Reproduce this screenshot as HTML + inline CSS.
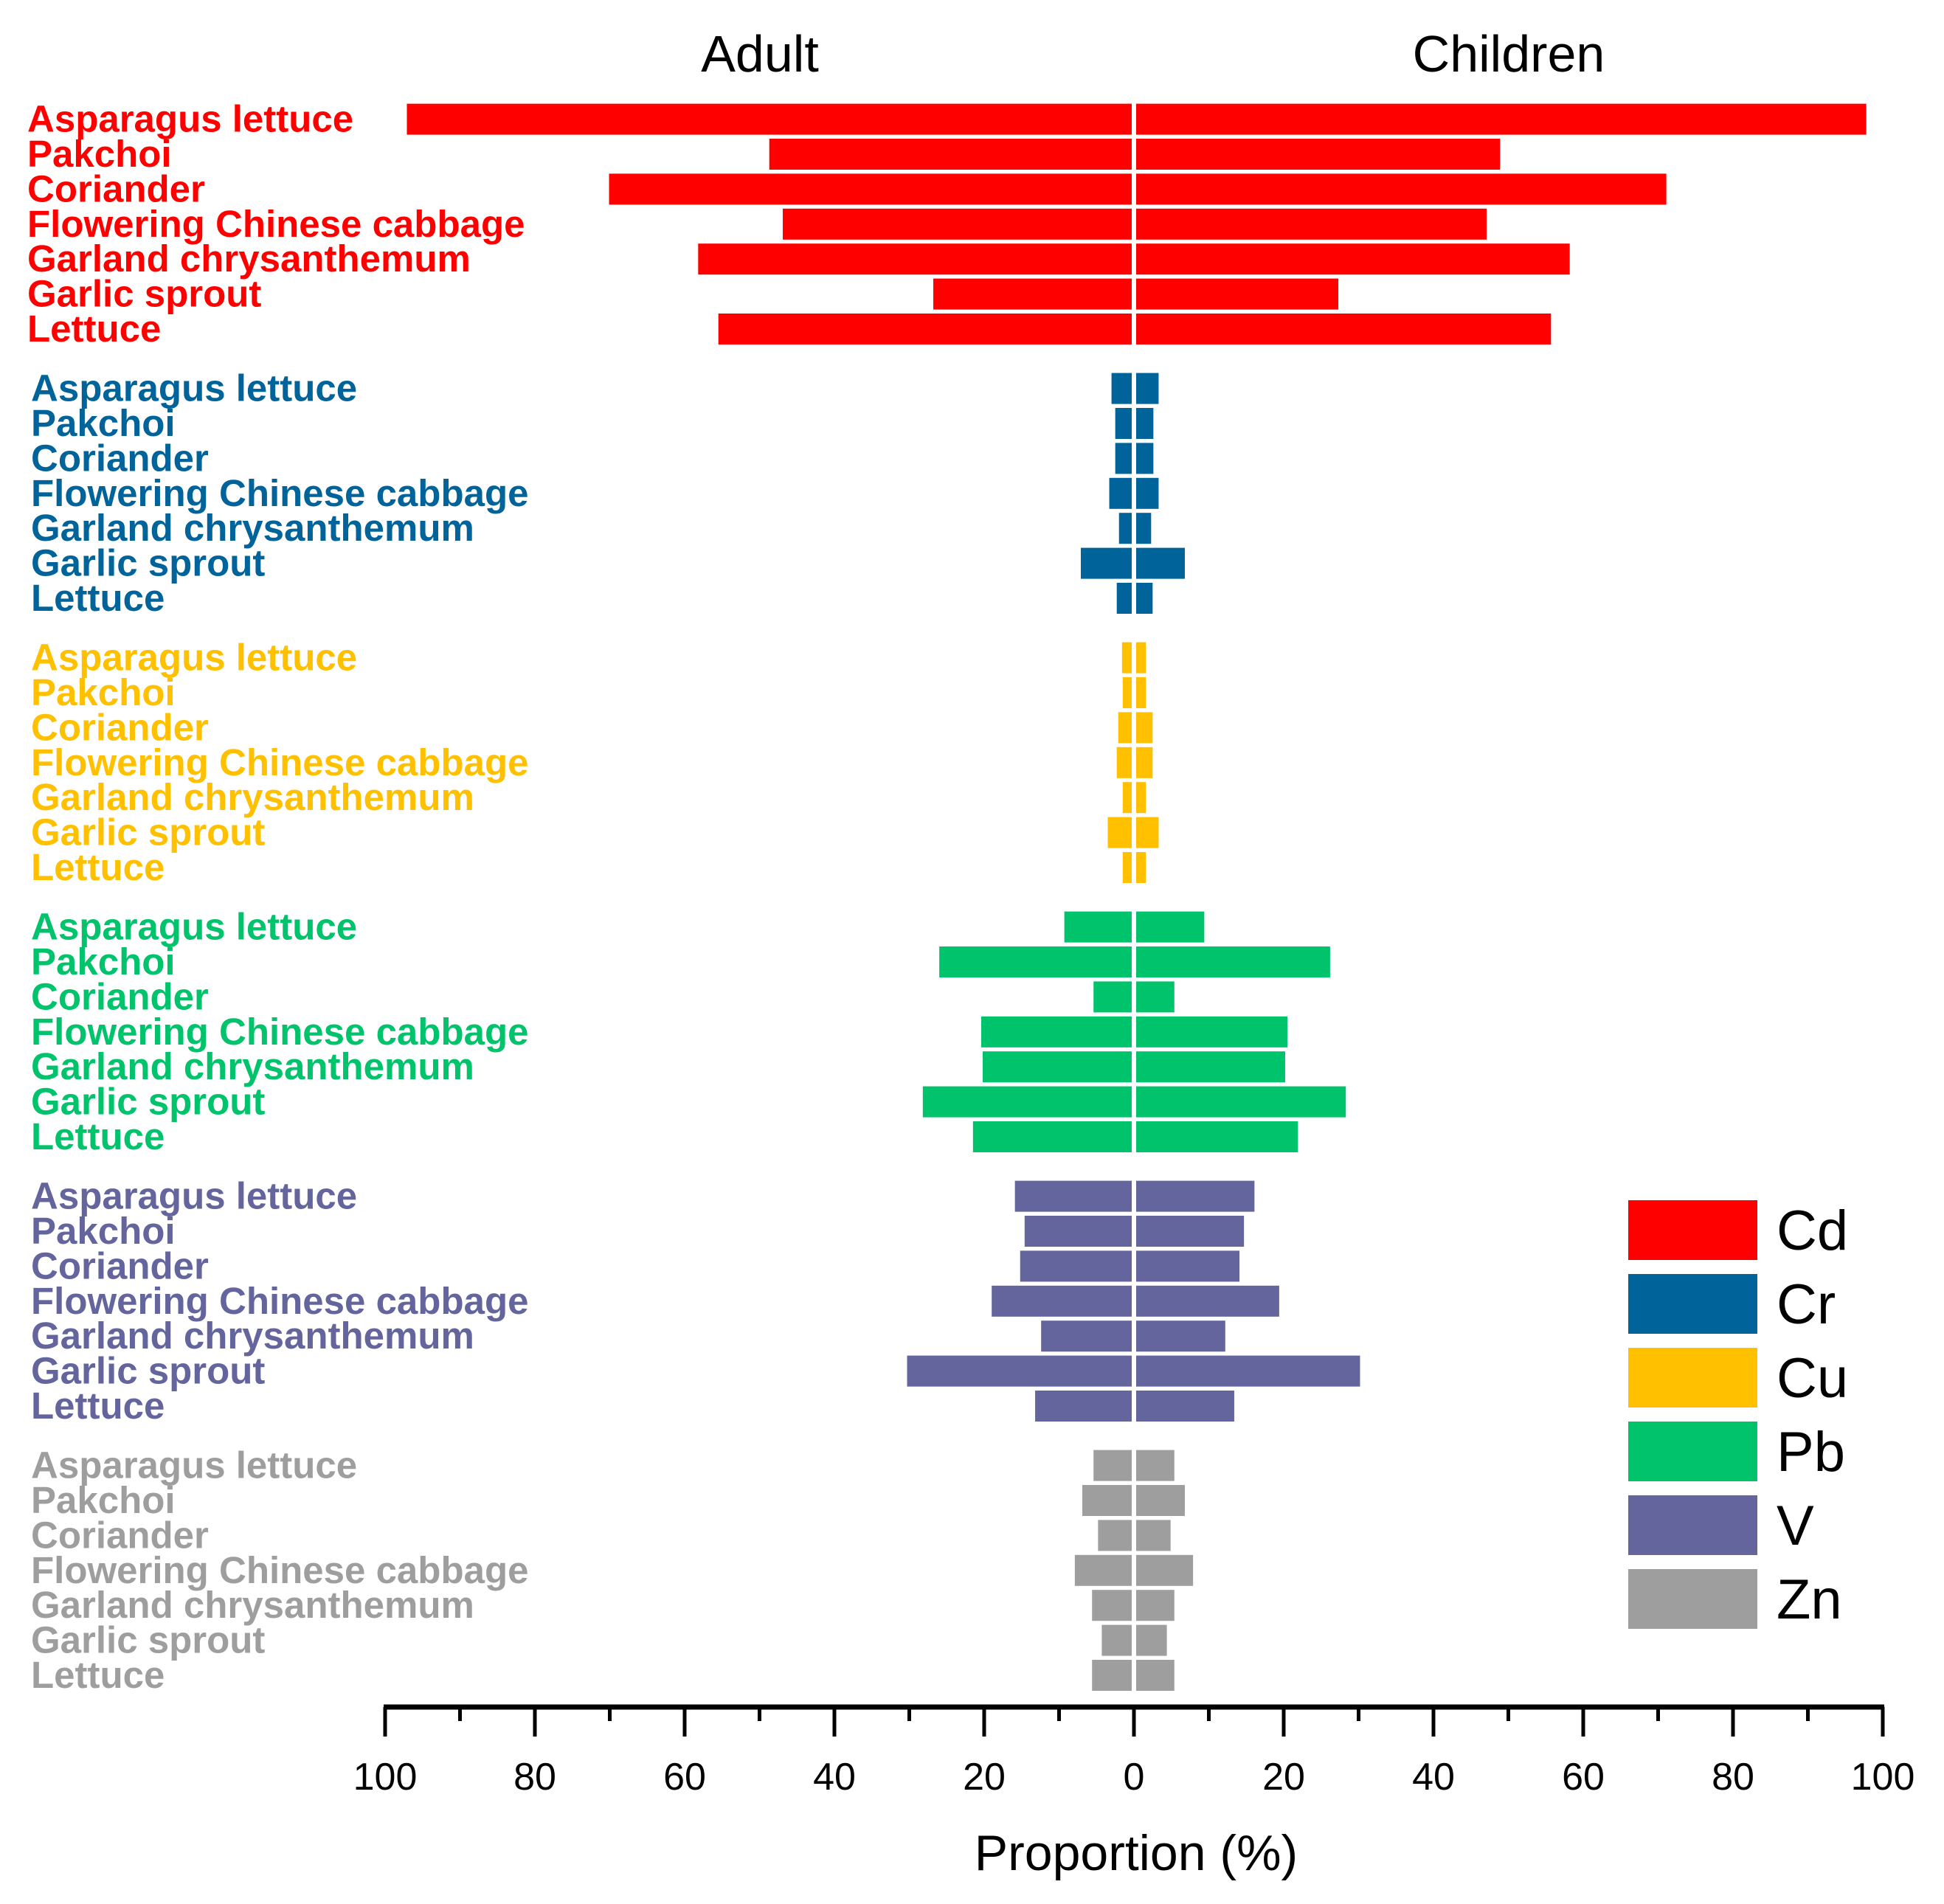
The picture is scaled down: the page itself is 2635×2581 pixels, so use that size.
<!DOCTYPE html>
<html><head><meta charset="utf-8"><style>html,body{margin:0;padding:0;background:#fff}svg{display:block}</style></head>
<body>
<svg id="chart" width="2635" height="2581" viewBox="0 0 2635 2581" xmlns="http://www.w3.org/2000/svg" font-family="Liberation Sans, sans-serif"></svg>
<script>
const metals = ["Cd","Cr","Cu","Pb","V","Zn"];
const colors = ["#ff0000","#00639a","#ffc000","#00c36c","#64659c","#9e9e9e"];
const vegetables = ["Asparagus lettuce","Pakchoi","Coriander","Flowering Chinese cabbage","Garland chrysanthemum","Garlic sprout","Lettuce"];
const adultCd = [96.8,48.4,69.8,46.6,57.9,26.5,55.2];
const childCd = [97.5,48.6,70.8,46.8,57.9,27.0,55.4];
const adultCr = [2.7,2.2,2.2,3.0,1.7,6.8,2.0];
const childCr = [3.0,2.3,2.3,3.0,2.0,6.5,2.2];
const adultCu = [1.3,1.2,1.8,2.0,1.2,3.2,1.2];
const childCu = [1.3,1.3,2.2,2.2,1.3,3.0,1.3];
const adultPb = [9.0,25.7,5.1,20.1,19.9,27.9,21.2];
const childPb = [9.1,25.9,5.1,20.2,19.9,28.0,21.6];
const adultV = [15.6,14.3,14.9,18.7,12.1,30.0,12.9];
const childV = [15.8,14.4,13.8,19.1,11.9,29.9,13.1];
const adultZn = [5.1,6.6,4.5,7.6,5.3,4.0,5.3];
const childZn = [5.1,6.5,4.6,7.6,5.1,4.1,5.1];
const tickLabels = ["100","80","60","40","20","0","20","40","60","80","100"];
const tickValues = [-100,-80,-60,-40,-20,0,20,40,60,80,100];

const adultAll = [adultCd,adultCr,adultCu,adultPb,adultV,adultZn];
const childAll = [childCd,childCr,childCu,childPb,childV,childZn];

const svg = document.getElementById('chart');
const NS = 'http://www.w3.org/2000/svg';
const X0 = 1537, SCALE = 10.15;
function xPos(v){ return X0 + v*SCALE; }
function rowY(g,i){ return 161.6 + g*365 + i*47.4; }
function mk(tag, attrs, parent){
  const e = document.createElementNS(NS, tag);
  for (const k in attrs) e.setAttribute(k, attrs[k]);
  (parent||svg).appendChild(e);
  return e;
}
let t;
t = mk('text',{x:1030,y:97,'font-size':70,'text-anchor':'middle',fill:'#000'});


t.textContent='Adult';
t = mk('text',{x:2045,y:97,'font-size':70,'text-anchor':'middle',fill:'#000'});


t.textContent='Children';

const BH = 42;
metals.forEach((m,g)=>{
  vegetables.forEach((veg,i)=>{
    const cy = rowY(g,i);
    const lab = mk('text',{x:g===0?37:42,y:cy+17,'font-size':51,'font-weight':'bold',fill:colors[g]});
    
    
    lab.textContent = veg;
    const a = adultAll[g][i];
    const ra = mk('rect',{x:xPos(-a)-3,y:cy-BH/2,width:a*SCALE,height:BH,fill:colors[g]});
    
    
    const c = childAll[g][i];
    const rc = mk('rect',{x:X0+3,y:cy-BH/2,width:c*SCALE,height:BH,fill:colors[g]});
    
    
  });
});

// axis
const ax = mk('line',{x1:xPos(-100)-2,x2:xPos(100)+2,y1:2314,y2:2314,stroke:'#000','stroke-width':7});


for (let v=-100; v<=100; v+=10){
  const major = v%20===0;
  const tk = mk('line',{x1:xPos(v),x2:xPos(v),y1:2314,y2:major?2354:2333,stroke:'#000','stroke-width':5});
  
  
}
tickValues.forEach((v,i)=>{
  const tl = mk('text',{x:xPos(v),y:2426,'font-size':52,'text-anchor':'middle',fill:'#000'});
  
  
  tl.textContent = tickLabels[i];
});
t = mk('text',{x:1540,y:2535,'font-size':68,'text-anchor':'middle',fill:'#000'});


t.textContent='Proportion (%)';

// legend
metals.forEach((m,g)=>{
  const top = 1627 + g*100;
  const sw = mk('rect',{x:2207,y:top,width:175,height:81,fill:colors[g]});
  
  
  const lt = mk('text',{x:2408,y:top+67,'font-size':76,fill:'#000'});
  
  
  lt.textContent = m;
});
</script>
</body></html>
